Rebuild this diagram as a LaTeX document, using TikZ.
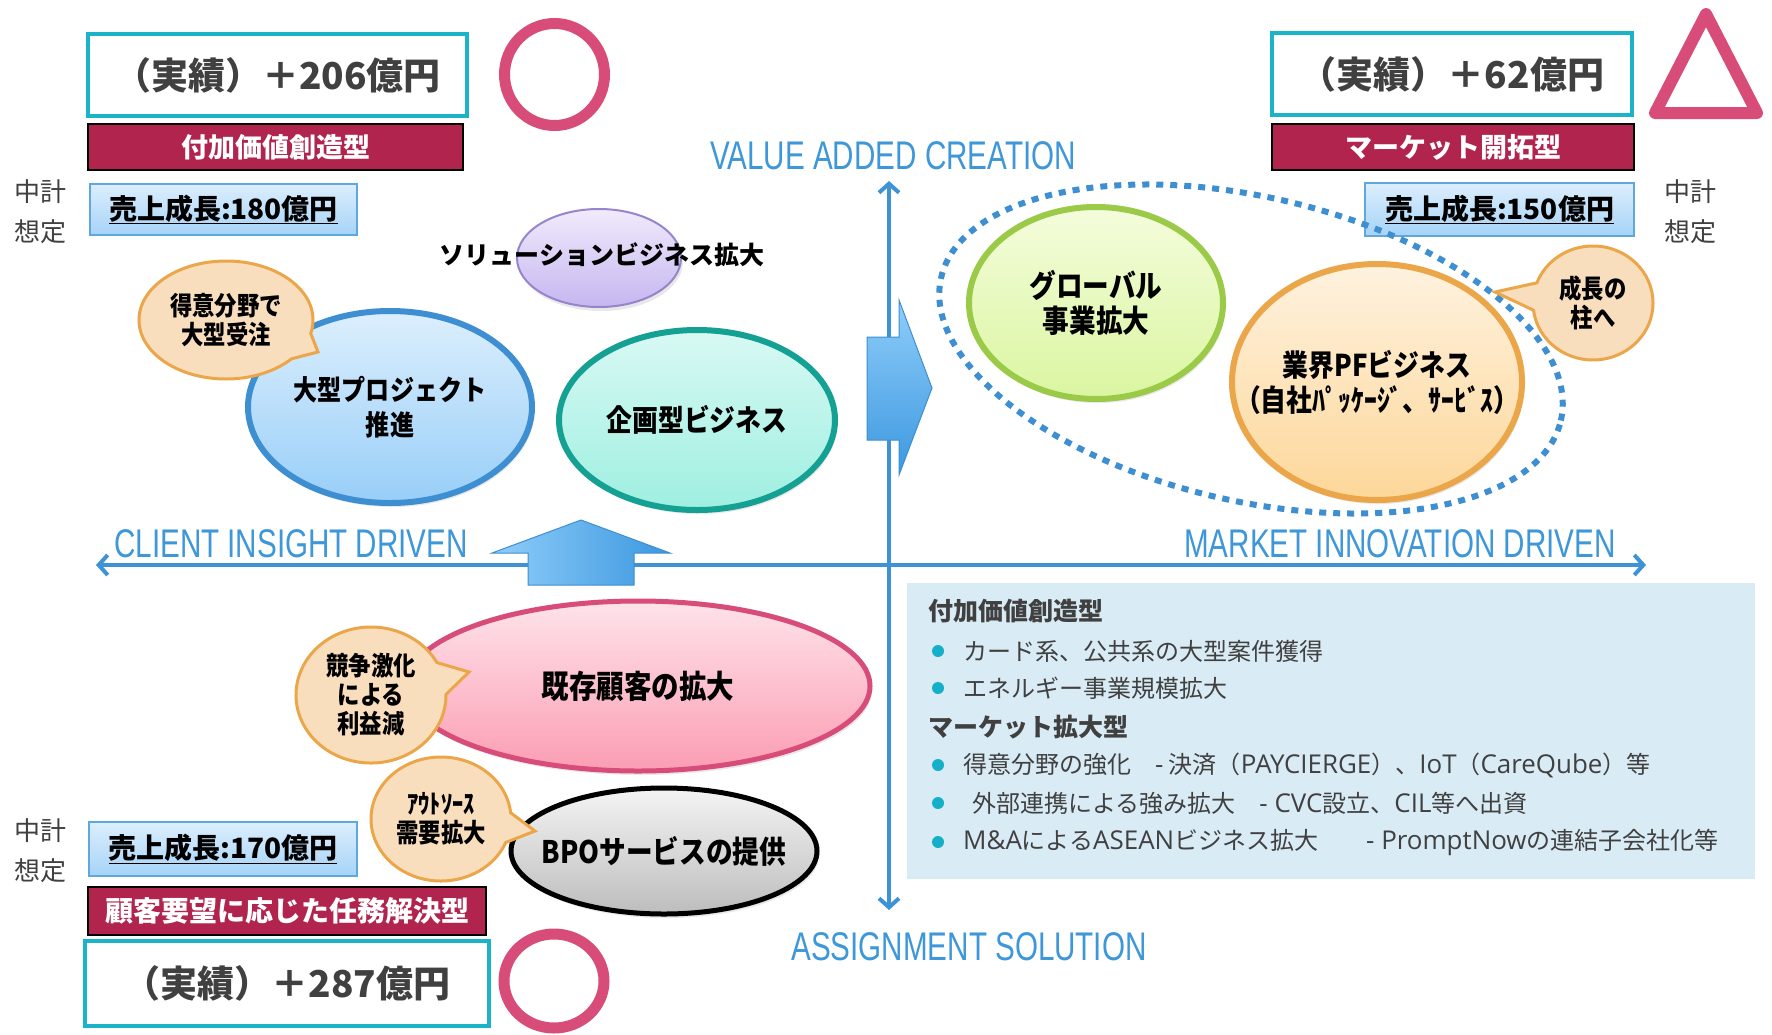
\documentclass[tikz,border=0pt]{standalone}
\usepackage{fontspec}
\setmainfont{Noto Sans CJK JP}
\newfontfamily\jpc[FakeStretch=0.86]{Noto Sans CJK JP}
\newfontfamily\axf[FakeStretch=0.74]{Liberation Sans}
\newfontfamily\lat[Scale=1.08]{Open Sans}
\usetikzlibrary{shapes.geometric,shapes.callouts,arrows.meta,shadows}
\newcommand{\myfs}[2]{\fontsize{#1}{#2}\selectfont}
\definecolor{cyanb}{HTML}{1BB3C8}
\definecolor{crim}{HTML}{B0244D}
\definecolor{pinkc}{HTML}{D84C79}
\definecolor{axblue}{HTML}{3D93D6}
\definecolor{axtext}{HTML}{3D97D8}
\definecolor{txtgray}{HTML}{404040}
\definecolor{boxedge}{HTML}{5FA8DE}
\definecolor{salestop}{HTML}{DCEEFD}
\definecolor{salesbot}{HTML}{A6D3F7}
\definecolor{bubedge}{HTML}{ECA64A}
\definecolor{bubfill}{HTML}{F9DEBE}
\definecolor{arredge}{HTML}{3D8FD1}
\definecolor{arrlight}{HTML}{8FCDFA}
\definecolor{arrdark}{HTML}{3C98DF}
\definecolor{infobg}{HTML}{D9EBF4}
\definecolor{bdotc}{HTML}{15B0C8}
\definecolor{purpedge}{HTML}{9684CC}
\definecolor{purptop}{HTML}{F0EBFC}
\definecolor{purpbot}{HTML}{C6B6F0}
\definecolor{tealedge}{HTML}{14A092}
\definecolor{tealtop}{HTML}{D8F9F4}
\definecolor{tealbot}{HTML}{9EEFE0}
\definecolor{grnedge}{HTML}{9ACA48}
\definecolor{grntop}{HTML}{F4FCDC}
\definecolor{grnbot}{HTML}{DAF6A0}
\definecolor{orgtop}{HTML}{FEF2DF}
\definecolor{orgbot}{HTML}{FDD799}
\definecolor{pnktop}{HTML}{FEE3EA}
\definecolor{pnkbot}{HTML}{FB9DB3}
\definecolor{blutop}{HTML}{DCEFFD}
\definecolor{blubot}{HTML}{98CEF8}
\definecolor{grytop}{HTML}{F4F4F4}
\definecolor{grybot}{HTML}{BDBDBD}
\begin{document}
\begin{tikzpicture}[x=1pt,y=-1pt,
  resbox/.style={draw=cyanb,line width=3.5pt,fill=white,inner sep=0pt,text=txtgray,font=\bfseries\myfs{37}{42}},
  typebox/.style={draw=black,line width=1.2pt,fill=crim,inner sep=0pt,text=white,font=\bfseries\myfs{27}{30}},
  salesbox/.style={draw=boxedge,line width=1.5pt,top color=salestop,bottom color=salesbot,inner sep=0pt,font=\bfseries\myfs{28}{32}},
  plan/.style={text=txtgray,font=\myfs{26}{40},align=center,inner sep=0pt},
  okmark/.style={draw=pinkc,line width=11pt,ellipse,inner sep=0pt},
  bizell/.style={ellipse,inner sep=0pt,drop shadow={opacity=0.18,shadow xshift=2pt,shadow yshift=-4pt}},
  bizlabel/.style={inner sep=0pt,align=center,font=\jpc\bfseries\myfs{30}{35}},
  bubble/.style={ellipse callout,draw=bubedge,line width=3pt,fill=bubfill,inner sep=0pt,align=center,callout pointer arc=28,font=\jpc\bfseries\myfs{26}{29}},
  axlabel/.style={text=axtext,font=\axf\myfs{40}{44},inner sep=0pt},
  axis/.style={draw=axblue,line width=4pt},
  blockarrow/.style={draw=arredge,line width=1pt},
  infotext/.style={anchor=west,text=txtgray,font=\myfs{24}{28},inner sep=0pt},
  infohead/.style={anchor=west,text=txtgray,font=\bfseries\myfs{25}{28},inner sep=0pt},
  bdot/.style={circle,fill=bdotc,minimum size=12pt,inner sep=0pt},
  dotline/.style={draw=arredge,line width=6pt,dash pattern=on 7pt off 7pt},
]
\fill[white] (0,0) rectangle (1772,1034);
\useasboundingbox (0,0) rectangle (1772,1034);

% axes
\coordinate (vtop) at (889,181);
\coordinate (vbot) at (889,910);
\coordinate (hl) at (96,565);
\coordinate (hr) at (1646,565);
\draw[axis,{Straight Barb[length=9pt,width=20pt]}-{Straight Barb[length=9pt,width=20pt]}] (hl) -- (hr);
\draw[axis,{Straight Barb[length=9pt,width=20pt]}-{Straight Barb[length=9pt,width=20pt]}] (vbot) -- (vtop);

% axis labels
\node[axlabel] (lvac) at (893,156) {VALUE ADDED CREATION};
\node[axlabel] (lcid) at (291,544) {CLIENT INSIGHT DRIVEN};
\node[axlabel] (lmid) at (1400,544) {MARKET INNOVATION DRIVEN};
\node[axlabel] (las) at (969,947) {ASSIGNMENT SOLUTION};

% block arrows
\path[blockarrow,left color=arrlight,right color=arrdark] (581,520) -- (670,553) -- (634,553) -- (634,585) -- (528,585) -- (528,553) -- (492,553) -- cycle;
\path[blockarrow,top color=arrlight,bottom color=arrdark] (932,388) -- (899,475) -- (899,440) -- (867,440) -- (867,337) -- (899,337) -- (899,300) -- cycle;

% top-left block
\node[resbox,minimum width=379pt,minimum height=82pt] (res1) at (277.5,75) {（実績）＋206億円};
\node[okmark,minimum width=100pt,minimum height=102pt] (ok1) at (554.5,74.5) {};
\node[typebox,minimum width=375pt,minimum height=46pt] (type1) at (275.5,147) {付加価値創造型};
\node[plan] (plan1) at (40,212) {中計\\想定};
\node[salesbox,minimum width=267pt,minimum height=51pt] (sales1) at (223.5,209.5) {\underline{売上成長:180億円}};

% top-right block
\node[resbox,minimum width=360pt,minimum height=82pt] (res2) at (1452,74) {（実績）＋62億円};
\draw[draw=pinkc,line width=12pt,line join=round] (1706,14) -- (1757,113) -- (1655,113) -- cycle;
\node[typebox,minimum width=362pt,minimum height=46pt] (type2) at (1453,147) {マーケット開拓型};
\node[plan] (plan2) at (1690,212) {中計\\想定};

% upper-left quadrant
\node[bizell,draw=purpedge,line width=2pt,top color=purptop,bottom color=purpbot,minimum width=164pt,minimum height=98pt] (sol) at (599,258) {};
\node[font=\bfseries\myfs{25}{30},inner sep=0pt] (soltxt) at (602,255) {ソリューションビジネス拡大};
\node[bizell,draw=arredge,line width=6pt,top color=blutop,bottom color=blubot,minimum width=284pt,minimum height=192pt] (bigp) at (390,407) {};
\node[bizlabel,font=\jpc\bfseries\myfs{28}{35}] (bigptxt) at (bigp.center) {大型プロジェクト\\推進};
\node[bizell,draw=tealedge,line width=6pt,top color=tealtop,bottom color=tealbot,minimum width=276pt,minimum height=180pt] (kik) at (697,420) {};
\node[bizlabel] (kiktxt) at (kik.center) {企画型ビジネス};
\node[bubble,minimum width=174pt,minimum height=118pt,callout absolute pointer={(318,352)}] (bub1) at (226,320) {得意分野で\\大型受注};

% upper-right quadrant
\node[bizell,draw=grnedge,line width=6pt,top color=grntop,bottom color=grnbot,minimum width=254pt,minimum height=192pt] (glob) at (1096,303) {};
\node[bizlabel,font=\jpc\bfseries\myfs{31}{35}] (globtxt) at (glob.center) {グローバル\\事業拡大};
\node[bizell,draw=bubedge,line width=6pt,top color=orgtop,bottom color=orgbot,minimum width=290pt,minimum height=236pt] (pf) at (1377,382) {};
\node[bizlabel] (pftxt) at (pf.center) {業界PFビジネス\\（自社ﾊﾟｯｹｰｼﾞ、ｻｰﾋﾞｽ）};
\node[salesbox,minimum width=269pt,minimum height=53pt] (sales2) at (1499.5,209.5) {\underline{売上成長:150億円}};
\draw[dotline,rotate around={-13:(1251,349)}] (1251,349) ellipse [x radius=318pt,y radius=152pt];
\node[bubble,minimum width=120pt,minimum height=114pt,callout absolute pointer={(1495,292)}] (bub4) at (1593,303) {成長の\\柱へ};

% lower-left quadrant
\node[bizell,draw=pinkc,line width=5pt,top color=pnktop,bottom color=pnkbot,minimum width=464pt,minimum height=170pt] (cust) at (638,686) {};
\node[bizlabel,font=\jpc\bfseries\myfs{32}{35}] (custtxt) at (cust.center) {既存顧客の拡大};
\node[bubble,minimum width=150pt,minimum height=136pt,callout absolute pointer={(469,672)}] (bub2) at (371,695) {競争激化\\による\\利益減};
\node[bizell,draw=black,line width=5pt,top color=grytop,bottom color=grybot,minimum width=306pt,minimum height=126pt] (bpo) at (664,851) {};
\node[bizlabel,font=\jpc\bfseries\myfs{31}{35}] (bpotxt) at (bpo.center) {BPOサービスの提供};
\node[bubble,minimum width=140pt,minimum height=124pt,callout absolute pointer={(535,831)}] (bub3) at (441,819) {ｱｳﾄｿｰｽ\\需要拡大};

% bottom-left block
\node[plan] (plan3) at (40,851) {中計\\想定};
\node[salesbox,minimum width=268pt,minimum height=54pt] (sales3) at (223,849) {\underline{売上成長:170億円}};
\node[typebox,minimum width=398pt,minimum height=48pt,font=\bfseries\myfs{28}{30}] (type3) at (287,911) {顧客要望に応じた任務解決型};
\node[resbox,minimum width=404pt,minimum height=85pt] (res3) at (287,983.5) {（実績）＋287億円};
\node[okmark,minimum width=100pt,minimum height=94pt] (ok3) at (554,981) {};

% info box
\node[fill=infobg,minimum width=848pt,minimum height=296pt,inner sep=0pt] (info) at (1331,731) {};
\node[infohead] (h1) at (928,611) {付加価値創造型};
\node[bdot] (d1) at (938,651) {};
\node[infotext] (t1) at (963,651) {カード系、公共系の大型案件獲得};
\node[bdot] (d2) at (938,688) {};
\node[infotext] (t2) at (963,688) {エネルギー事業規模拡大};
\node[infohead] (h2) at (928,727) {マーケット拡大型};
\node[bdot] (d3) at (938,765) {};
\node[infotext] (t3) at (963,765) {得意分野の強化　{\lat -} 決済（{\lat PAYCIERGE}）、{\lat IoT}（{\lat CareQube}）等};
\node[bdot] (d4) at (938,803) {};
\node[infotext] (t4) at (972,803) {外部連携による強み拡大　{\lat - CVC}設立、{\lat CIL}等へ出資};
\node[bdot] (d5) at (938,842) {};
\node[infotext] (t5) at (963,842) {{\lat M\&A}による{\lat ASEAN}ビジネス拡大　　{\lat - PromptNow}の連結子会社化等};
\end{tikzpicture}
\end{document}
